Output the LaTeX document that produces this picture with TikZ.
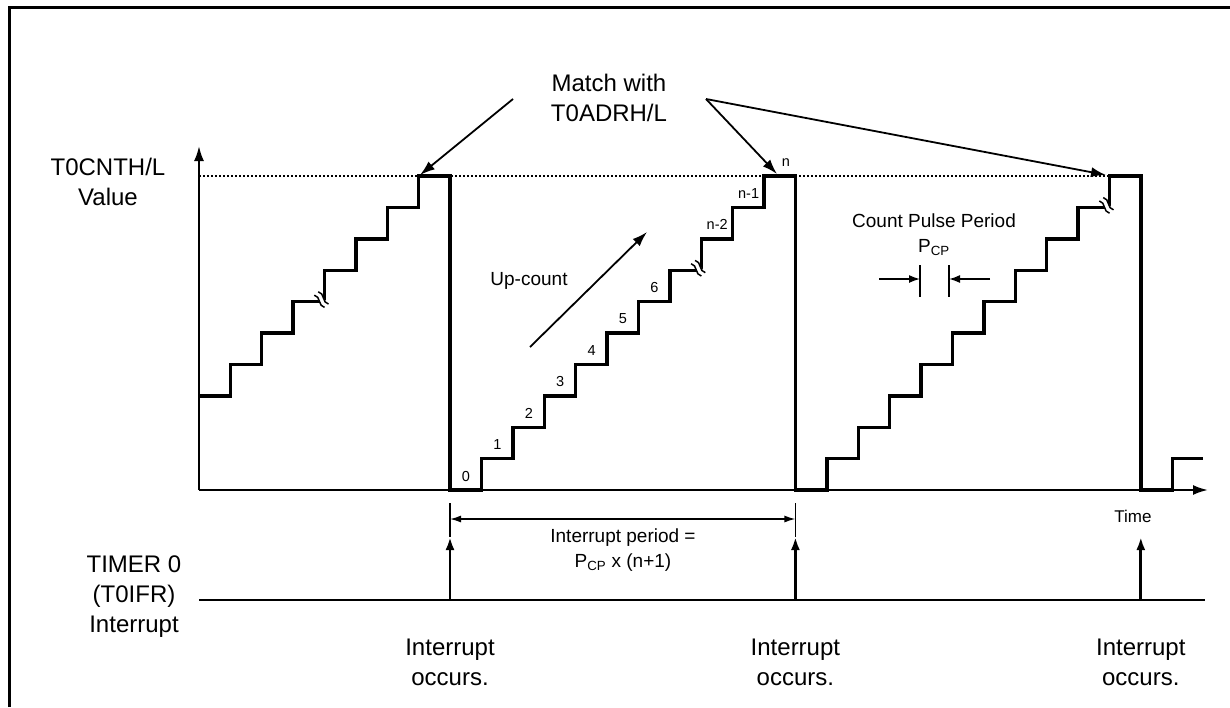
\documentclass[tikz,border=0pt]{standalone}
\usepackage{fontspec}
\setmainfont{Liberation Sans}
\usetikzlibrary{arrows.meta}
\tikzset{
  bigtxt/.style={font=\fontsize{24}{30}\selectfont, align=center, inner sep=0pt},
  midtxt/.style={font=\fontsize{19}{25}\selectfont, align=center, inner sep=0pt},
  numtxt/.style={font=\fontsize{14.5}{17}\selectfont, inner sep=0pt},
  wave/.style={line width=3.4pt, line join=miter},
  axis/.style={line width=2.2pt, -{Latex[length=15pt,width=10pt]}},
  pointer/.style={line width=1.8pt, -{Latex[length=15pt,width=10pt]}},
  irq/.style={line width=2.8pt, -{Latex[length=13pt,width=9pt]}},
  dim/.style={line width=1.4pt, {Latex[length=11pt,width=7pt]}-{Latex[length=11pt,width=7pt]}},
  pcp/.style={line width=1.6pt, -{Latex[length=11pt,width=8pt]}},
}
\def\pw{31.4}
% break mark on a staircase corner
\newcommand{\brkmark}[2]{%
  \begin{scope}[shift={(#1-3,#2-2)}, rotate=-50]
    \fill[white] (-8,-2.6) rectangle (8,2.6);
    \draw[line width=1.5pt] (-8,-2.6) .. controls (-3,-7) and (3,1.8) .. (8,-2.6);
    \draw[line width=1.5pt] (-8,2.6) .. controls (-3,-1.8) and (3,7) .. (8,2.6);
  \end{scope}}

\begin{document}
\begin{tikzpicture}[x=1pt, y=-1pt]
  \useasboundingbox (0,0) rectangle (1230,707);
  % frame
  \draw[line width=3pt] (9,707) -- (9,7) -- (1230,7);

  % axes
  \coordinate (org) at (199,490);
  \coordinate (ytip) at (199,146);
  \coordinate (xtip) at (1208,490);
  \draw[axis] (org) -- (ytip);
  \draw[axis] (org) -- (xtip);
  \draw[line width=1.3pt, dash pattern=on 1.5pt off 2.5pt] (199,176) -- (1108,176);

  % counter value
  \draw[wave] (199,{490-3*\pw})
    \foreach \k in {4,...,10} { -| ({450-(11-\k)*\pw},{490-\k*\pw}) }
    -| (450,490)
    \foreach \k in {1,...,10} { -| ({450+\k*\pw},{490-\k*\pw}) }
    -| ({450+11*\pw},490)
    \foreach \k in {1,...,10} { -| ({450+(11+\k)*\pw},{490-\k*\pw}) }
    -| ({450+22*\pw},490) -| ({450+23*\pw},{490-\pw}) -- (1203,{490-\pw});
  \brkmark{450-4*\pw}{490-6*\pw}
  \brkmark{450+8*\pw}{490-7*\pw}
  \brkmark{450+21*\pw}{490-9*\pw}

  % step numbers
  \foreach \k/\lab in {0/0,1/1,2/2,3/3,4/4,5/5,6/6,8/n-2,9/n-1}
    \node[numtxt] (c\k) at ({466+\k*\pw},{476-\k*\pw}) {\lab};
  \node[numtxt] (cn) at (786,163) {n};

  % labels
  \node[bigtxt] (yval) at (108,182) {T0CNTH/L\\Value};
  \node[bigtxt] (match) at (609,98) {Match with\\T0ADRH/L};
  \coordinate (mw) at (513,99);
  \coordinate (me) at (706,99);
  \coordinate (top1) at (420,175);
  \coordinate (top2) at (777,174);
  \coordinate (top3) at (1106,175);
  \draw[pointer] (mw) -- (top1);
  \draw[pointer] (me) -- (top2);
  \draw[pointer] (me) -- (top3);

  \node[midtxt] (upc) at (529,281) {Up-count};
  \coordinate (ua) at (530,347);
  \coordinate (ub) at (647,232);
  \draw[pointer] (ua) -- (ub);

  \node[midtxt] (cpp) at (934,235) {Count Pulse Period\\P\textsubscript{CP}};
  \draw[line width=1.6pt] (920,265) -- (920,297);
  \draw[line width=1.6pt] (949,265) -- (949,297);
  \coordinate (pl) at (879,279);
  \coordinate (pr) at (990,279);
  \draw[pcp] (pl) -- (920,279);
  \draw[pcp] (pr) -- (949,279);

  % interrupt line
  \node[bigtxt] (tmr) at (134,597) {TIMER 0\\(T0IFR)\\Interrupt};
  \draw[line width=2.2pt] (199,600) -- (1205,600);
  \foreach \i/\x in {1/450,2/795.4,3/1140.8} {
    \coordinate (irq\i) at (\x,600);
    \coordinate (hit\i) at (\x,537);
    \draw[irq] (irq\i) -- (hit\i);
    \node[bigtxt] (occ\i) at (\x,662) {Interrupt\\occurs.};
  }
  \draw[line width=1.2pt] (450,503) -- (hit1);
  \draw[line width=1.2pt] (795.4,503) -- (hit2);
  \coordinate (pa) at (450,519);
  \coordinate (pb) at (795.4,519);
  \draw[dim] (pa) -- (pb);
  \node[midtxt] (iper) at (623,550) {Interrupt period =\\P\textsubscript{CP} x (n+1)};
  \node[font=\fontsize{17}{20}\selectfont, inner sep=0pt] (time) at (1133,516) {Time};
\end{tikzpicture}
\end{document}
